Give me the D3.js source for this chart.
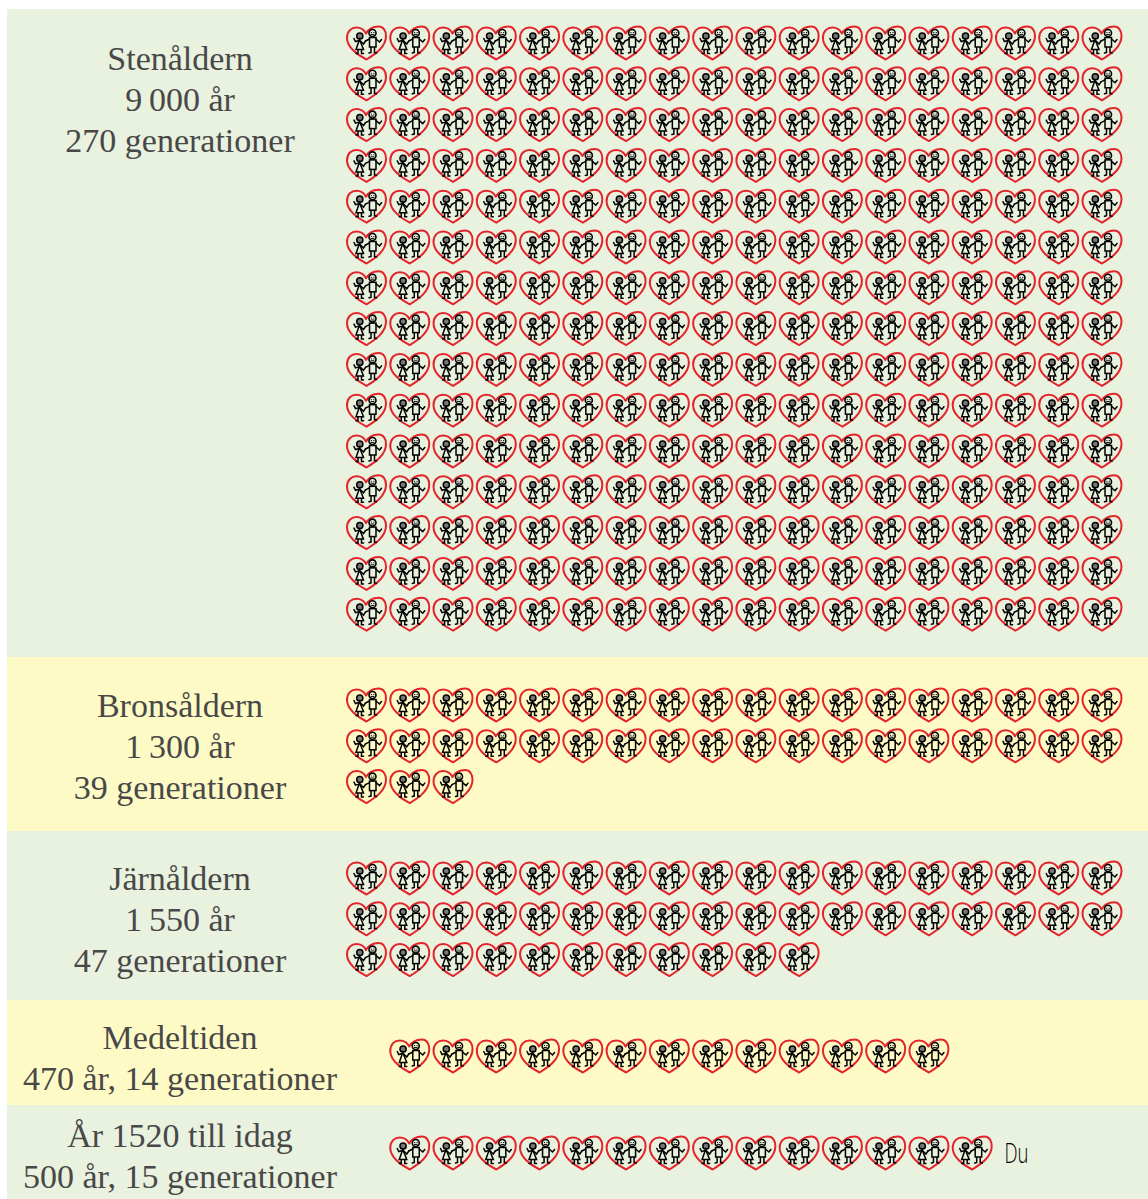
<!DOCTYPE html>
<html lang="sv">
<head>
<meta charset="utf-8">
<title>Generationer</title>
<script src="https://cdn.jsdelivr.net/npm/d3@7"></script>
<style>
  html, body { margin: 0; padding: 0; background: #fff; overflow: hidden; }
  svg { display: block; }
  .label { font-family: "Liberation Serif", serif; font-size: 34px; fill: #484848; text-anchor: middle; }
  .du { font-family: "Open Sans", sans-serif; font-weight: 300; font-size: 27px; fill: #000; }
</style>
</head>
<body>
<div id="chart"></div>
<script>
(function () {
  const periods = ['Stenåldern', 'Bronsåldern', 'Järnåldern', 'Medeltiden', 'Idag'];
  const labelLines = [
    ['Stenåldern', '9\u2009000 år', '270 generationer'],
    ['Bronsåldern', '1\u2009300 år', '39 generationer'],
    ['Järnåldern', '1\u2009550 år', '47 generationer'],
    ['Medeltiden', '470 år, 14 generationer'],
    ['År 1520 till idag', '500 år, 15 generationer'],
  ];
  // hearts drawn per period, read by counting the picture
  const heartCounts = [270, 39, 47, 13, 14];
  const startColumns = [0, 0, 0, 1, 1];

  const width = 1148;
  const height = 1199;
  const perRow = 18;
  const rowStep = 40.8;

  const bandEdges = [9, 657, 831, 1000, 1105, 1199];
  const firstRowY = [43, 705, 878, 1056, 1153];
  const firstBaseline = [70, 717, 890, 1049, 1147];
  const bandFill = ['#e9f1df', '#fefac6', '#e9f1df', '#fefac6', '#e9f1df'];

  const xScale = d3.scalePoint()
    .domain(d3.range(perRow))
    .range([366.5, 1102]);

  const svg = d3.select('#chart')
    .append('svg')
    .attr('width', width)
    .attr('height', height);

  // the couple-in-a-heart icon, reused for every generation
  const icon = svg.append('defs').append('g').attr('id', 'couple');

  icon.append('path')
    .attr('d', 'M0,16.5 C-9,12 -19.5,4 -19.5,-5 C-19.5,-12 -15,-15.5 -10,-15.5 C-5,-15.5 -2,-12.5 -0.5,-9.5 C2,-14 7,-16.5 12,-16.5 C17,-16.5 19.5,-12 19.5,-7 C19.5,4 9,11 0,16.5 Z')
    .attr('fill', 'none')
    .attr('stroke', '#e3242b')
    .attr('stroke-width', 2)
    .attr('stroke-linejoin', 'round');

  const ink = icon.append('g')
    .attr('fill', 'none')
    .attr('stroke', '#000')
    .attr('stroke-width', 1.5)
    .attr('stroke-linecap', 'round');

  // her
  ink.append('circle').attr('cx', -6.7).attr('cy', -7).attr('r', 3.1).attr('fill', '#777').attr('stroke-width', 1.5);
  ink.append('path').attr('d', 'M-7,-3.5 L-10.5,6.5 L-3,6.5 Z');
  ink.append('path').attr('d', 'M-8.5,7 L-8.5,10.5 L-10.5,10.5 M-5,7 L-5,10.5 L-3,10.5');
  ink.append('path').attr('d', 'M-7.5,-2.5 L-11,-1.5 L-12.5,-4.5 M-6,-2 L-3,1 L-1,-2');
  // him
  ink.append('circle').attr('cx', 6).attr('cy', -10).attr('r', 3.5).attr('stroke-width', 1.6);
  ink.append('path').attr('d', 'M4.7,-10.5 L5,-10.5 M7.2,-10.5 L7.5,-10.5 M4.5,-8.6 L7.5,-8.6').attr('stroke-width', 1);
  ink.append('rect').attr('x', 3).attr('y', -5.5).attr('width', 6.5).attr('height', 9.5);
  ink.append('path').attr('d', 'M3,-4 L-1,-2 M9.5,-4 L13,-1 L15,-3.5 M4.5,4.5 L4.5,9.5 L2.5,10 M8,4.5 L8,9.5 L10,10');

  svg.append('g')
    .selectAll('rect')
    .data(periods)
    .join('rect')
    .attr('x', 7)
    .attr('y', (d, i) => bandEdges[i])
    .attr('width', width - 7)
    .attr('height', (d, i) => bandEdges[i + 1] - bandEdges[i])
    .attr('fill', (d, i) => bandFill[i]);

  const labels = svg.append('g');

  labelLines.forEach((lines, i) => {
    labels.append('g')
      .selectAll('text')
      .data(lines)
      .join('text')
      .attr('class', 'label')
      .attr('x', 180)
      .attr('y', (d, j) => firstBaseline[i] + j * 41)
      .text((d) => d);
  });

  periods.forEach((period, i) => {
    const slots = d3.range(heartCounts[i]).map((n) => n + startColumns[i]);

    svg.append('g')
      .attr('class', 'hearts')
      .selectAll('use')
      .data(slots)
      .join('use')
      .attr('href', '#couple')
      .attr('transform', (d) => {
        const x = xScale(d % perRow);
        const y = firstRowY[i] + Math.floor(d / perRow) * rowStep;
        return `translate(${x},${y})`;
      });
  });

  // the last slot of the last row is the reader
  svg.append('text')
    .attr('class', 'du')
    .attr('x', xScale(15) - 11)
    .attr('y', 1163)
    .attr('textLength', 24)
    .attr('lengthAdjust', 'spacingAndGlyphs')
    .text('Du');
})();
</script>
</body>
</html>
